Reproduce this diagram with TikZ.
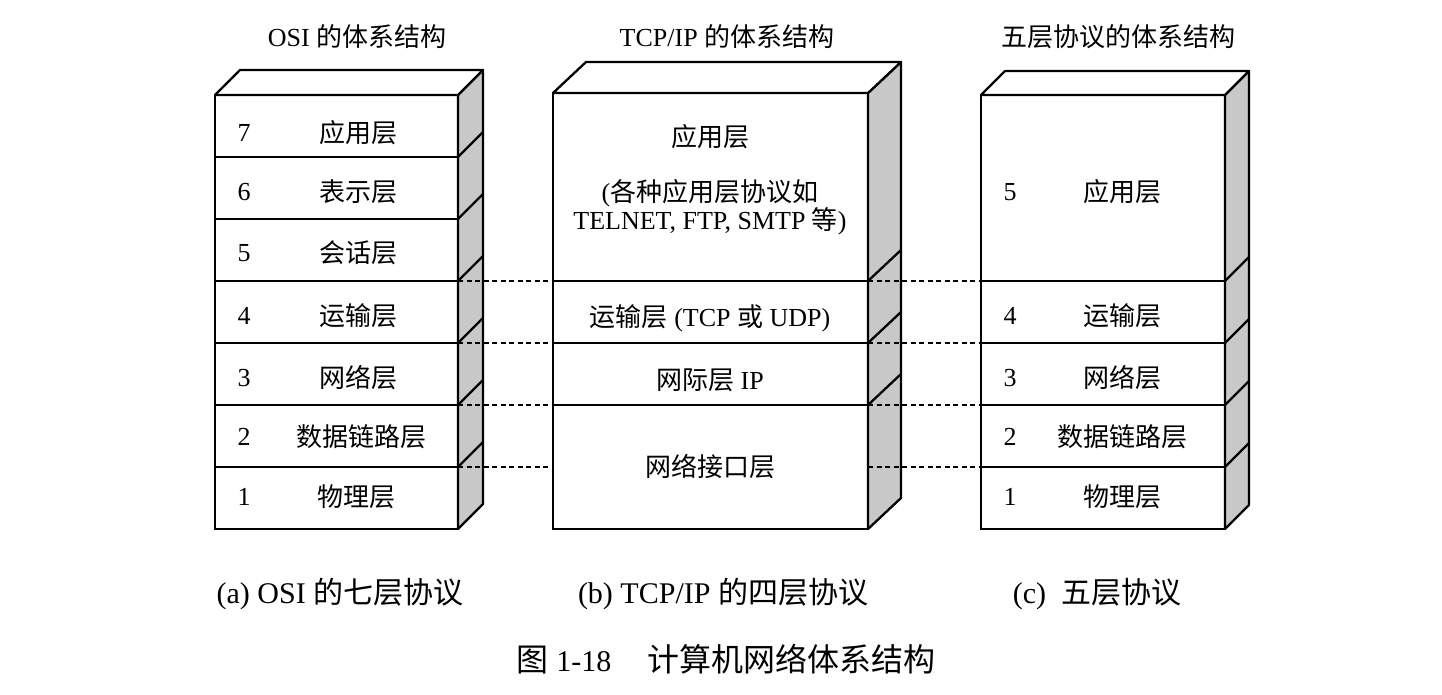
\documentclass[tikz,border=0pt]{standalone}
\usepackage{fontspec}
\setmainfont{Liberation Serif}
\newfontfamily\cjk{Noto Sans CJK SC}
\usetikzlibrary{calc}
\definecolor{sidegray}{RGB}{200,200,200}
\newcommand{\zh}[1]{{\cjk #1}}
\tikzset{
  layer/.style={draw, line width=2.3pt, fill=white, inner sep=0pt, outer sep=0pt,
                minimum width=#1},
  sideface/.style={draw, line width=2.3pt, fill=sidegray, line join=round},
  sideline/.style={line width=2.3pt},
  link/.style={line width=1.3pt, dash pattern=on 5pt off 3.5pt},
  txt/.style={font=\fontsize{26}{30}\selectfont, inner sep=0pt},
  captxt/.style={font=\fontsize{30}{34}\selectfont, inner sep=0pt},
}

\begin{document}
\begin{tikzpicture}[x=1pt, y=-1pt]
\useasboundingbox (0,0) rectangle (1442,694);

%% == OSI (left) ==============================================================
\node[layer=243, minimum height=62] (osi7) at (336.5,126) {};
\node[layer=243, minimum height=62] (osi6) at (336.5,188) {};
\node[layer=243, minimum height=62] (osi5) at (336.5,250) {};
\node[layer=243, minimum height=62] (osi4) at (336.5,312) {};
\node[layer=243, minimum height=62] (osi3) at (336.5,374) {};
\node[layer=243, minimum height=62] (osi2) at (336.5,436) {};
\node[layer=243, minimum height=62] (osi1) at (336.5,498) {};

% side and top faces
\draw[sideface] (osi7.north east) -- ++(25,-25) -- ($(osi1.south east)+(25,-25)$)
  -- (osi1.south east) -- cycle;
\draw[sideface, fill=white] (osi7.north west) -- ++(25,-25)
  -- ($(osi7.north east)+(25,-25)$) -- (osi7.north east) -- cycle;
\foreach \n in {7,6,5,4,3,2}
  \draw[sideline] (osi\n.south east) -- ++(25,-25);

\node[txt] (osititle) at (357,37) {OSI \zh{的体系结构}};
\node[txt] (osin7) at (244,133) {7};  \node[txt] (osit7) at (358,133) {\zh{应用层}};
\node[txt] (osin6) at (244,192) {6};  \node[txt] (osit6) at (358,192) {\zh{表示层}};
\node[txt] (osin5) at (244,253) {5};  \node[txt] (osit5) at (358,253) {\zh{会话层}};
\node[txt] (osin4) at (244,316) {4};  \node[txt] (osit4) at (358,316) {\zh{运输层}};
\node[txt] (osin3) at (244,378) {3};  \node[txt] (osit3) at (358,378) {\zh{网络层}};
\node[txt] (osin2) at (244,437) {2};  \node[txt] (osit2) at (361,437) {\zh{数据链路层}};
\node[txt] (osin1) at (244,497) {1};  \node[txt] (osit1) at (356,497) {\zh{物理层}};
\node[captxt] (osicap) at (340,594) {(a) OSI \zh{的七层协议}};

%% == TCP/IP (middle) =========================================================
\node[layer=315, minimum height=188] (tcp4) at (710.5,187) {};
\node[layer=315, minimum height=62]  (tcp3) at (710.5,312) {};
\node[layer=315, minimum height=62]  (tcp2) at (710.5,374) {};
\node[layer=315, minimum height=124] (tcp1) at (710.5,467) {};

% side and top faces
\draw[sideface] (tcp4.north east) -- ++(33,-31) -- ($(tcp1.south east)+(33,-31)$)
  -- (tcp1.south east) -- cycle;
\draw[sideface, fill=white] (tcp4.north west) -- ++(33,-31)
  -- ($(tcp4.north east)+(33,-31)$) -- (tcp4.north east) -- cycle;
\foreach \n in {4,3,2}
  \draw[sideline] (tcp\n.south east) -- ++(33,-31);

\node[txt] (tcptitle) at (727,37) {TCP/IP \zh{的体系结构}};
\node[txt] (tcpt4a) at (710,137) {\zh{应用层}};
\node[txt] (tcpt4b) at (710,193) {(\zh{各种应用层协议如}};
\node[txt] (tcpt4c) at (710,221) {TELNET, FTP, SMTP \zh{等})};
\node[txt] (tcpt3) at (710,318) {\zh{运输层} (TCP \zh{或} UDP)};
\node[txt] (tcpt2) at (710,380) {\zh{网际层} IP};
\node[txt] (tcpt1) at (710,467) {\zh{网络接口层}};
\node[captxt] (tcpcap) at (723,594) {(b) TCP/IP \zh{的四层协议}};

%% == FIVE LAYERS (right) =====================================================
\node[layer=244, minimum height=186] (five5) at (1103,188) {};
\node[layer=244, minimum height=62]  (five4) at (1103,312) {};
\node[layer=244, minimum height=62]  (five3) at (1103,374) {};
\node[layer=244, minimum height=62]  (five2) at (1103,436) {};
\node[layer=244, minimum height=62]  (five1) at (1103,498) {};

% side and top faces
\draw[sideface] (five5.north east) -- ++(24,-24) -- ($(five1.south east)+(24,-24)$)
  -- (five1.south east) -- cycle;
\draw[sideface, fill=white] (five5.north west) -- ++(24,-24)
  -- ($(five5.north east)+(24,-24)$) -- (five5.north east) -- cycle;
\foreach \n in {5,4,3,2}
  \draw[sideline] (five\n.south east) -- ++(24,-24);

\node[txt] (fivetitle) at (1118,37) {\zh{五层协议的体系结构}};
\node[txt] (fiven5) at (1010,192) {5};  \node[txt] (fivet5) at (1122,192) {\zh{应用层}};
\node[txt] (fiven4) at (1010,316) {4};  \node[txt] (fivet4) at (1122,316) {\zh{运输层}};
\node[txt] (fiven3) at (1010,378) {3};  \node[txt] (fivet3) at (1122,378) {\zh{网络层}};
\node[txt] (fiven2) at (1010,437) {2};  \node[txt] (fivet2) at (1122,437) {\zh{数据链路层}};
\node[txt] (fiven1) at (1010,497) {1};  \node[txt] (fivet1) at (1122,497) {\zh{物理层}};
\node[captxt] (fivecap) at (1097,594) {(c)\hspace{0.5em}\zh{五层协议}};

%% == DASHED LINKS ============================================================
\draw[link] (osi4.north east) -- (tcp3.north west);
\draw[link] (osi4.south east) -- (tcp3.south west);
\draw[link] (osi3.south east) -- (tcp2.south west);
\draw[link] (osi2.south east) -- (tcp1.west);
\draw[link] (tcp3.north east) -- (five4.north west);
\draw[link] (tcp3.south east) -- (five3.north west);
\draw[link] (tcp2.south east) -- (five2.north west);
\draw[link] (tcp1.east)       -- (five1.north west);

% figure caption
\node[captxt] (figcap) at (726,659)
  {\zh{\fontsize{32}{34}\selectfont 图} 1-18\hspace{36pt}\zh{\fontsize{32}{34}\selectfont 计算机网络体系结构}};
\end{tikzpicture}
\end{document}
